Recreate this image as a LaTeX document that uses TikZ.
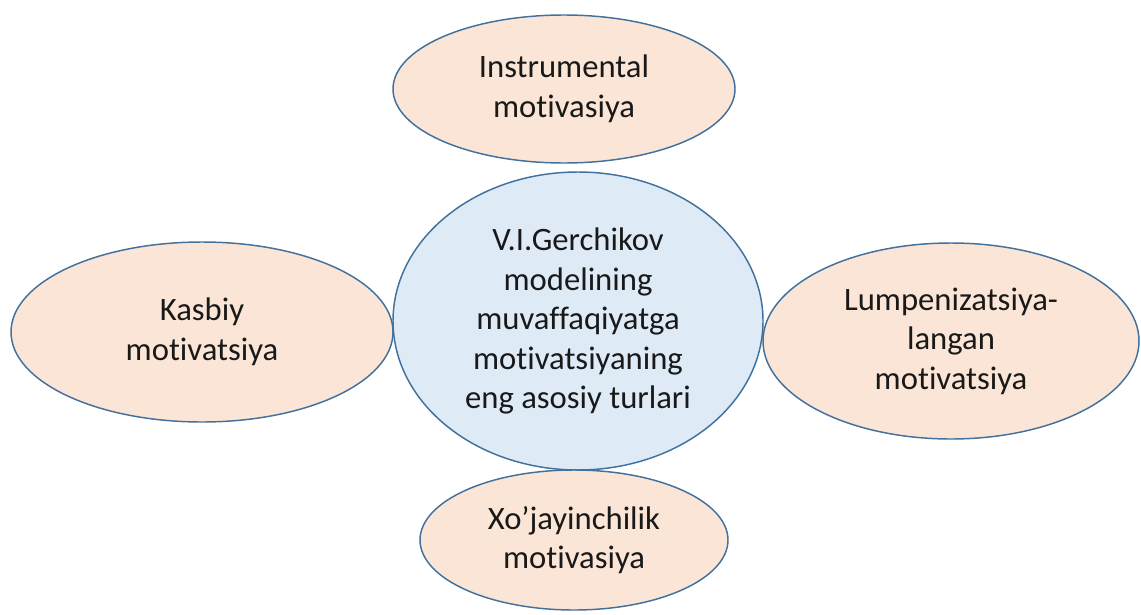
\documentclass[tikz,border=0pt]{standalone}
\usepackage{fontspec}
\setmainfont[Ligatures={NoCommon}]{Carlito}
\usetikzlibrary{shapes.geometric}
\definecolor{edge}{HTML}{41719C}
\definecolor{peach}{HTML}{FBE5D6}
\definecolor{pale}{HTML}{DEEBF7}
\begin{document}
\begin{tikzpicture}[x=0.75pt,y=-0.75pt,
  bubble/.style={ellipse,draw=edge,line width=1.1pt,inner sep=0pt,align=center,
    font=\fontsize{24.5}{29.6}\selectfont,text=black!90},
  outer/.style={bubble,fill=peach},
  hub/.style={bubble,fill=pale}]
\useasboundingbox (0,0) rectangle (1141,614);
\node[hub,minimum width=277.5pt,minimum height=223.5pt] (c) at (578,321)
  {V.I.Gerchikov\\modelining\\muvaffaqiyatga\\motivatsiyaning\\eng asosiy turlari};
\node[outer,minimum width=256.5pt,minimum height=111pt] (t) at (564,89) {Instrumental\\motivasiya};
\node[outer,minimum width=286.5pt,minimum height=135pt] (l) at (202,332) {Kasbiy\\motivatsiya};
\node[outer,minimum width=282pt,minimum height=147pt] (r) at (951,341) {Lumpenizatsiya-\\langan\\motivatsiya};
\node[outer,minimum width=231pt,minimum height=105pt] (b) at (574,540) {Xo’jayinchilik\\motivasiya};
\end{tikzpicture}
\end{document}
